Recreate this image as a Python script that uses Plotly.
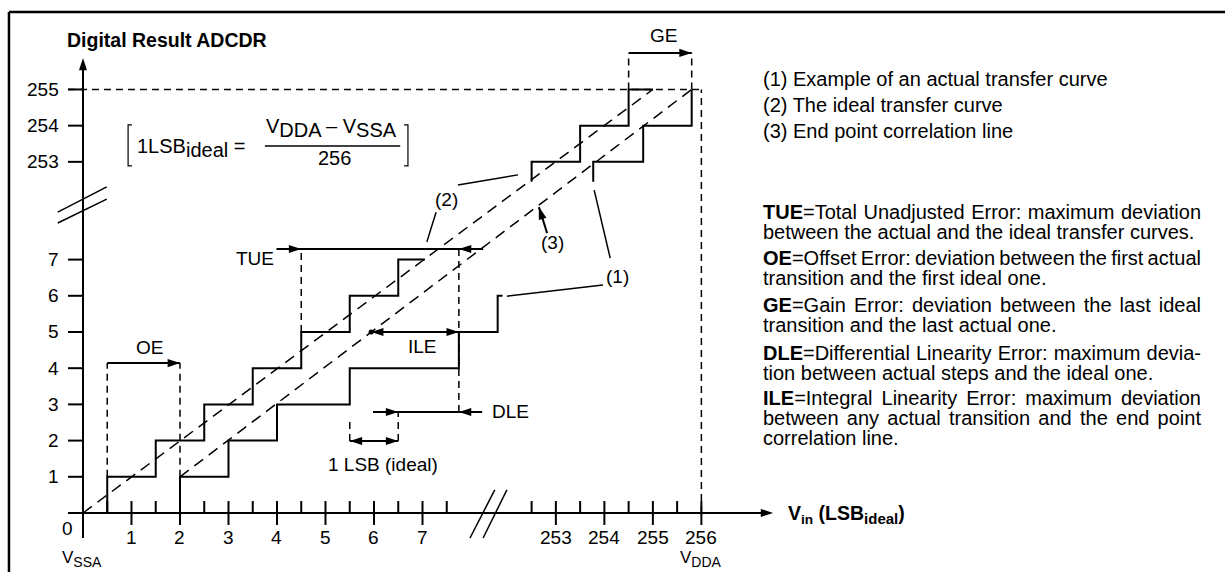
import json
import math
import plotly.graph_objects as go

# axis breaks: codes/voltages above 100 are drawn shifted back next to the low end
GAP_X = 243.25
GAP_Y = 243.3


def X(v):
    return v - GAP_X if v > 100 else v


def Y(v):
    return v - GAP_Y if v > 100 else v


def bx(vals):
    return [None if v is None else X(v) for v in vals]


def by(vals):
    return [None if v is None else Y(v) for v in vals]


# (1) example of an actual transfer curve
actual_lo_x = [2, 2, 3, 3, 4, 4, 5.5, 5.5, 7.75, 7.75, 8.55, 8.55, 8.65]
actual_lo_y = [0, 1, 1, 2, 2, 3, 3, 4, 4, 5, 5, 6, 6]
actual_hi_x = [253.77, 253.77, 254.8, 254.8, 255.8, 255.8]
actual_hi_y = [252.45, 253, 253, 254, 254, 255]

# (2) ideal transfer curve
ideal_lo_x = [0.5, 0.5, 1.5, 1.5, 2.5, 2.5, 3.5, 3.5, 4.5, 4.5, 5.5, 5.5, 6.5, 6.5, 7.05]
ideal_lo_y = [0, 1, 1, 2, 2, 3, 3, 4, 4, 5, 5, 6, 6, 7, 7]
ideal_hi_x = [252.5, 252.5, 253.5, 253.5, 254.5, 254.5, 255.0]
ideal_hi_y = [252.45, 253, 253, 254, 254, 255, 255]

# dashed straight lines: ideal line and (3) end point correlation line
ideal_line_x = [0, 255]
ideal_line_y = [0, 255]
epc_line_x = [2, 255.8]
epc_line_y = [1, 255]

x_major = [1, 2, 3, 4, 5, 6, 7, 253, 254, 255, 256]
x_minor = [0.5, 1.5, 2.5, 3.5, 4.5, 5.5, 6.5, 7.5, 252.5, 253.5, 254.5, 255.5]
y_ticks = [1, 2, 3, 4, 5, 6, 7, 253, 254, 255]

legend_lines = [
    "(1) Example of an actual transfer curve",
    "(2) The ideal transfer curve",
    "(3) End point correlation line",
]
definitions = [
    ("TUE", "Total Unadjusted Error: maximum deviation", "between the actual and the ideal transfer curves."),
    ("OE", "Offset Error: deviation between the first actual", "transition and the first ideal one."),
    ("GE", "Gain Error: deviation between the last ideal", "transition and the last actual one."),
    ("DLE", "Differential Linearity Error: maximum devia-", "tion between actual steps and the ideal one."),
    ("ILE", "Integral Linearity Error: maximum deviation", "between any actual transition and the end point", "correlation line."),
]

FONT = "Liberation Sans, Arial, Helvetica, sans-serif"
XR = [-1.711, 23.546]
YR = [-1.630, 14.171]
PXX = 1225 / (XR[1] - XR[0])
PXY = 572 / (YR[1] - YR[0])

fig = go.Figure()


def lines(x, y, width=2.0, dash=None):
    fig.add_trace(go.Scatter(x=x, y=y, mode="lines", hoverinfo="skip",
                             line=dict(color="black", width=width, dash=dash)))


# main curves
lines(bx(actual_lo_x), by(actual_lo_y))
lines(bx(actual_hi_x), by(actual_hi_y))
lines(bx(ideal_lo_x), by(ideal_lo_y))
lines(bx(ideal_hi_x), by(ideal_hi_y))
lines(bx(ideal_line_x), by(ideal_line_y), 1.5, "11px,7px")
lines(bx(epc_line_x), by(epc_line_y), 1.5, "11px,7px")

# axes
lines([-0.31, 14.1], [0, 0])
lines([0, 0], [-0.69, 12.45])
tx, ty = [], []
for v in x_major:
    tx += [X(v), X(v), None]
    ty += [-0.33, 0.33, None]
for v in x_minor:
    tx += [X(v), X(v), None]
    ty += [0, 0.33, None]
for v in y_ticks:
    tx += [-0.31, 0, None]
    ty += [Y(v), Y(v), None]
lines(tx, ty)

# axis breaks
lines([7.98, 8.49, None, 8.25, 8.74], [-0.69, 0.64, None, -0.69, 0.64], 1.5)
lines([-0.52, 0.49, None, -0.52, 0.49], [8.31, 9.01, None, 8.01, 8.67], 1.5)

# dotted guides
dots_x = [-0.31, X(256), None, X(256), X(256), None,
          0.5, 0.5, None, 2, 2, None,
          4.5, 4.5, None, 7.75, 7.75, None,
          5.5, 5.5, None, 6.5, 6.5, None,
          X(254.5), X(254.5), None, X(255.8), X(255.8)]
dots_y = [Y(255), Y(255), None, 0, Y(255), None,
          1.0, 4.14, None, 1.0, 4.14, None,
          5.0, 7.29, None, 2.79, 7.29, None,
          1.99, 2.57, None, 1.99, 2.79, None,
          Y(255), 12.71, None, Y(255), 12.71]
lines(dots_x, dots_y, 1.5, "7px,5px")

# annotation leader lines and arrow shafts
shaft_x = [0.5, 2.0, None, 3.99, 8.25, None, 5.94, 7.75, None, 5.98, 8.23, None,
           5.5, 6.5, None, X(254.5), X(255.8), None, 9.57, 9.40]
shaft_y = [4.14, 4.14, None, 7.29, 7.29, None, 5, 5, None, 2.79, 2.79, None,
           1.99, 1.99, None, 12.71, 12.71, None, 7.73, 8.45]
lines(shaft_x, shaft_y, 2)
lead_x = [7.73, 8.97, None, 7.28, 7.09, None, 10.87, 10.54, None, 8.74, 10.72]
lead_y = [9.06, 9.34, None, 8.31, 7.49, None, 7.04, 8.92, None, 5.99, 6.30]
lines(lead_x, lead_y, 1.5)


# arrow heads (tip position, direction from)
def head_angle(fx, fy, tx_, ty_):
    dx = (tx_ - fx) * PXX
    dy = (ty_ - fy) * PXY
    return math.degrees(math.atan2(dx, dy))


heads = [
    (0.5, 4.14, 2.0, 4.14),
    (3.99, 7.29, 4.5, 7.29),
    (8.25, 7.29, 7.75, 7.29),
    (7.75, 5, 5.94, 5),
    (5.94, 5, 7.75, 5),
    (5.98, 2.79, 6.5, 2.79),
    (8.23, 2.79, 7.75, 2.79),
    (6.5, 1.99, 5.5, 1.99),
    (5.5, 1.99, 6.5, 1.99),
    (X(254.5), 12.71, X(255.8), 12.71),
    (9.57, 7.73, 9.40, 8.45),
    (0, 0, 14.23, 0),
    (0, 0, 0, 12.57),
]
fig.add_trace(go.Scatter(
    x=[h[2] for h in heads], y=[h[3] for h in heads], mode="markers", hoverinfo="skip",
    marker=dict(symbol="arrow", size=13, color="black", line=dict(width=0),
                angle=[head_angle(*h) for h in heads])))
fig.add_trace(go.Scatter(x=[5.94], y=[5], mode="markers", hoverinfo="skip",
                         marker=dict(symbol="circle", size=5, color="black")))


def label(x, y, text, size=19, xanchor="center", bold=False, yanchor="middle", **kw):
    if bold:
        text = "<b>" + text + "</b>"
    fig.add_annotation(x=x, y=y, text=text, showarrow=False, xanchor=xanchor,
                       yanchor=yanchor, font=dict(family=FONT, size=size, color="black"), **kw)


def sub(t, size):
    return '<sub><span style="font-size:%dpx">%s</span></sub>' % (size, t)


# tick labels
for v in x_major:
    label(X(v), -0.69 if v < 100 else -0.68, str(v))
for v in y_ticks:
    label(-0.45, Y(v), str(v), xanchor="right")
label(-0.31, -0.44, "0")
label(-0.45, YR[0] + 0.03, "V" + sub("SSA", 14), 17, xanchor="left", yanchor="bottom", borderpad=0)
label(12.28, YR[0] + 0.03, "V" + sub("DDA", 14), 17, xanchor="left", yanchor="bottom", borderpad=0)
label(-0.37, 13.07, "Digital Result ADCDR", 19.5, xanchor="left", bold=True)
label(14.5, -0.05, "V<sub>in</sub> (LSB" + sub("ideal", 15) + ")", 19.5, xanchor="left", bold=True)

# error labels
label(1.38, 4.56, "OE")
label(3.97, 7.04, "TUE", xanchor="right")
label(6.99, 4.61, "ILE")
label(8.39, 2.79, "DLE", xanchor="left")
label(6.19, 1.33, "1 LSB (ideal)")
label(11.96, 13.2, "GE")
label(7.5, 8.65, "(2)")
label(9.69, 7.46, "(3)")
label(11.03, 6.52, "(1)")

# 1 LSB formula
lines([1.01, 0.93, 0.93, 1.01, None, 6.62, 6.70, 6.70, 6.62],
      [10.72, 10.72, 9.59, 9.59, None, 10.72, 10.72, 9.59, 9.59], 1.2)
lines([3.75, 6.54], [10.14, 10.14], 1.5)
label(1.08, 10.08, "1LSB" + sub("ideal", 20) + " =", 20, xanchor="left")
label(5.13, 10.64, "V" + sub("DDA", 20) + " \u2013 V" + sub("SSA", 20), 20)
label(5.18, 9.80, "256", 20)

# right-hand text column
TEXT_X = 13.98
for i, t in enumerate(legend_lines):
    label(TEXT_X, 11.99 - i * 0.72, t, 20, xanchor="left", align="left")
para_y = [8.31, 7.04, 5.75, 4.42, 3.18]
justify = []
for (key, first, *rest), y0 in zip(definitions, para_y):
    label(TEXT_X, y0, "<b>" + key + "</b>=" + first, 20, xanchor="left", align="left")
    justify.append(key + "=" + first)
    for j, t in enumerate(rest):
        label(TEXT_X, y0 - 0.56 * (j + 1), t, 20, xanchor="left", align="left")
        if j < len(rest) - 1:
            justify.append(t)

# page frame
fig.add_shape(type="line", xref="x", yref="y", x0=-1.526, x1=XR[1], y0=13.84, y1=13.84,
              line=dict(color="black", width=2.5))
fig.add_shape(type="line", xref="x", yref="y", x0=-1.526, x1=-1.526, y0=YR[0], y1=13.84,
              line=dict(color="black", width=2.5))

fig.update_layout(
    width=1225, height=572, margin=dict(l=0, r=0, t=0, b=0),
    paper_bgcolor="white", plot_bgcolor="white", showlegend=False,
    xaxis=dict(range=XR, visible=False, fixedrange=True),
    yaxis=dict(range=YR, visible=False, fixedrange=True),
)

# justified paragraph lines (word spacing stretched to the column width)
post = """
document.body.style.margin = '0';
var gd = document.getElementById('{plot_id}');
var just = %s;
gd.querySelectorAll('text.annotation-text').forEach(function (t) {
  var s = t.textContent;
  if (just.indexOf(s) < 0) return;
  var n = s.split(' ').length - 1;
  var w = t.getComputedTextLength();
  t.style.wordSpacing = ((438 - w) / n) + 'px';
});
""" % json.dumps(justify)
fig.write_html("out.html", post_script=post, config={"displayModeBar": False})
